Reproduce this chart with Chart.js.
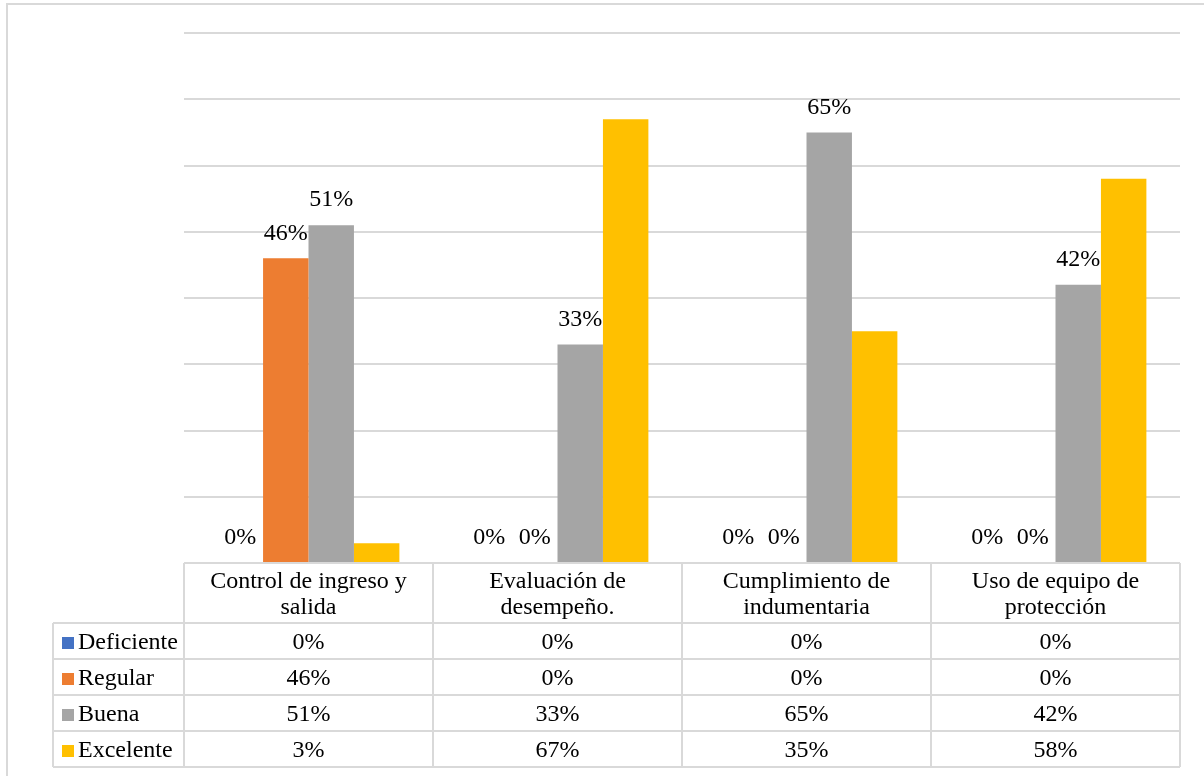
<!DOCTYPE html>
<html>
<head>
<meta charset="utf-8">
<script src="https://cdn.jsdelivr.net/npm/chart.js@4.4.1/dist/chart.umd.min.js"></script>
<style>
  html, body { margin: 0; padding: 0; background: #fff; }
  #wrap { width: 1204px; height: 776px; position: relative; }
</style>
</head>
<body>
<div id="wrap"><canvas id="chart" width="1204" height="776"></canvas></div>
<script>
const categories = [
    ["Control de ingreso y", "salida"],
    ["Evaluación de", "desempeño."],
    ["Cumplimiento de", "indumentaria"],
    ["Uso de equipo de", "protección"]
];
const seriesNames = ["Deficiente", "Regular", "Buena", "Excelente"];
const deficiente = [0, 0, 0, 0];
const regular = [46, 0, 0, 0];
const buena = [51, 33, 65, 42];
const excelente = [3, 67, 35, 58];
const seriesColors = ["#4472C4", "#ED7D31", "#A5A5A5", "#FFC000"];
// series whose values are printed above the bars
const labelledSeries = [0, 1, 2];

const FONT = "24px 'Liberation Serif', 'Times New Roman', serif";
const LINE = "#d9d9d9";

// light frame around the whole figure
const framePlugin = {
    id: "frame",
    beforeDraw(chart) {
        const ctx = chart.ctx;
        ctx.save();
        ctx.fillStyle = "#fff";
        ctx.fillRect(0, 0, chart.width, chart.height);
        ctx.strokeStyle = LINE;
        ctx.lineWidth = 2;
        ctx.beginPath();
        ctx.moveTo(7, chart.height + 2);
        ctx.lineTo(7, 4);
        ctx.lineTo(chart.width + 2, 4);
        ctx.stroke();
        ctx.restore();
    }
};

// percentages above the bars
const valueLabels = {
    id: "valueLabels",
    afterDatasetsDraw(chart) {
        const ctx = chart.ctx;
        ctx.save();
        ctx.font = FONT;
        ctx.fillStyle = "#000";
        ctx.textAlign = "center";
        ctx.textBaseline = "middle";
        labelledSeries.forEach(di => {
            const meta = chart.getDatasetMeta(di);
            meta.data.forEach((bar, i) => {
                const v = chart.data.datasets[di].data[i];
                ctx.fillText(v + "%", bar.x, bar.y - 25);
            });
        });
        ctx.restore();
    }
};

// data table under the plot with legend keys
const dataTable = {
    id: "dataTable",
    afterDraw(chart) {
        const ctx = chart.ctx;
        const area = chart.chartArea;
        const n = chart.data.labels.length;
        const colW = (area.right - area.left) / n;
        const top = area.bottom;
        const headH = 60;
        const rowH = 36;
        const keyLeft = 53;
        const rows = chart.data.datasets.length;
        const bottom = top + headH + rows * rowH;

        ctx.save();
        ctx.strokeStyle = LINE;
        ctx.lineWidth = 2;
        ctx.beginPath();
        // header row
        ctx.moveTo(area.left, top);
        ctx.lineTo(area.right, top);
        for (let r = 0; r <= rows; r++) {
            const y = top + headH + r * rowH;
            ctx.moveTo(keyLeft, y);
            ctx.lineTo(area.right, y);
        }
        ctx.moveTo(keyLeft, top + headH);
        ctx.lineTo(keyLeft, bottom);
        for (let c = 0; c <= n; c++) {
            const x = area.left + c * colW;
            ctx.moveTo(x, top);
            ctx.lineTo(x, bottom);
        }
        ctx.stroke();

        ctx.font = FONT;
        ctx.fillStyle = "#000";
        ctx.textBaseline = "middle";
        ctx.textAlign = "center";
        chart.data.labels.forEach((lab, c) => {
            const cx = area.left + (c + 0.5) * colW;
            ctx.fillText(lab[0], cx, top + 19);
            ctx.fillText(lab[1], cx, top + 45);
        });

        chart.data.datasets.forEach((ds, r) => {
            const cy = top + headH + (r + 0.5) * rowH;
            ctx.fillStyle = ds.backgroundColor;
            ctx.fillRect(62, cy - 4, 12, 12);
            ctx.fillStyle = "#000";
            ctx.textAlign = "left";
            ctx.fillText(ds.label, 78, cy + 2);
            ctx.textAlign = "center";
            ds.data.forEach((v, c) => {
                ctx.fillText(v + "%", area.left + (c + 0.5) * colW, cy + 2);
            });
        });
        ctx.restore();
    }
};

const seriesData = [deficiente, regular, buena, excelente];

new Chart(document.getElementById("chart"), {
    type: "bar",
    data: {
        labels: categories,
        datasets: seriesNames.map((name, i) => ({
            label: name,
            data: seriesData[i],
            backgroundColor: seriesColors[i],
            borderWidth: 0,
            categoryPercentage: 0.73,
            barPercentage: 1
        }))
    },
    options: {
        responsive: false,
        animation: false,
        layout: { padding: { left: 184, right: 24, top: 33, bottom: 213 } },
        plugins: {
            legend: { display: false },
            tooltip: { enabled: false }
        },
        scales: {
            x: { display: false },
            y: {
                min: 0,
                max: 80,
                ticks: { display: false, stepSize: 10 },
                border: { display: false },
                grid: { color: LINE, lineWidth: 2, drawTicks: false },
                afterFit(scale) { scale.width = 0; }
            }
        }
    },
    plugins: [framePlugin, valueLabels, dataTable]
});
</script>
</body>
</html>
